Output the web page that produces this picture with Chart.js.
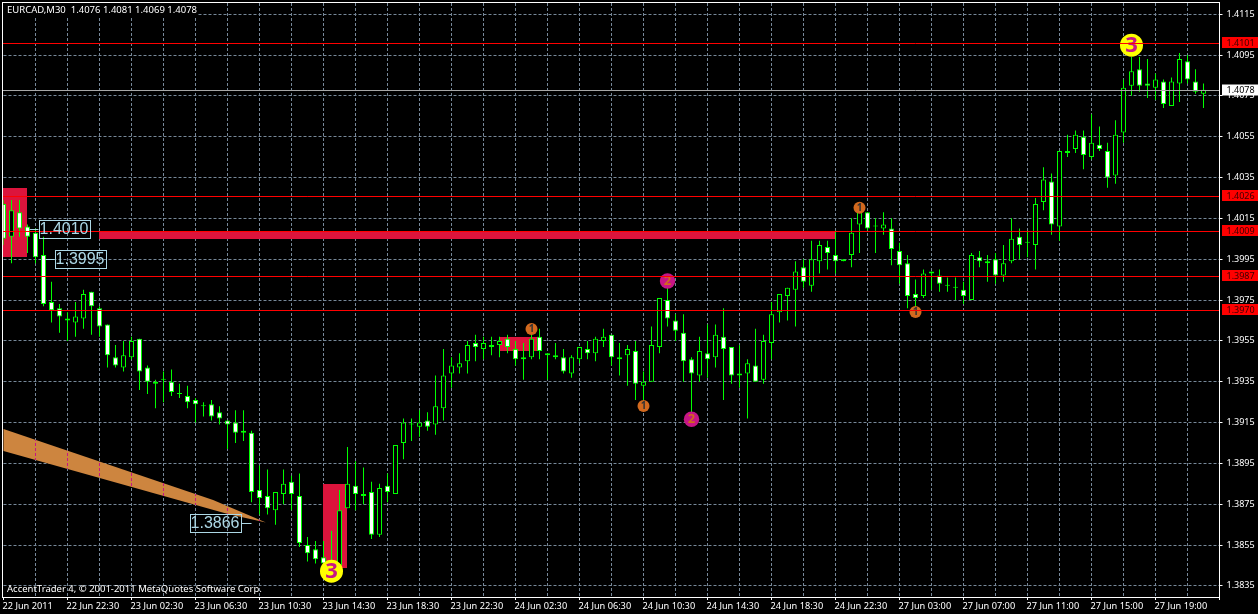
<!DOCTYPE html>
<html>
<head>
<meta charset="utf-8">
<title>EURCAD,M30</title>
<script src="https://cdn.jsdelivr.net/npm/chart.js@4"></script>
<style>
  html, body { margin: 0; padding: 0; background: #000; overflow: hidden; }
  canvas { display: block; }
</style>
</head>
<body>
<canvas id="grafico" width="1258" height="614"></canvas>
<script>
// candles, one per 30 minutes
const open = [
  1.4022,1.4006,1.4018,1.4011,1.4008,1.3997,1.3974,1.3971,1.3966,1.3964,
  1.3966,1.3979,1.3971,1.3963,1.3947,1.3942,1.3947,1.3956,1.3942,1.3935,
  1.3936,1.3935,1.3929,1.3928,1.3926,1.3923,1.3924,1.3920,1.3916,1.3915,
  1.3911,1.3910,1.3882,1.3879,1.3872,1.3880,1.3886,1.3879,1.3855,1.3853,
  1.3849,1.3846,1.3845,1.3873,1.3884,1.3880,1.3881,1.3860,1.3884,1.3880,
  1.3905,1.3914,1.3913,1.3916,1.3914,1.3922,1.3939,1.3942,1.3945,1.3954,
  1.3951,1.3953,1.3953,1.3956,1.3951,1.3947,1.3947,1.3957,1.3949,1.3947,
  1.3947,1.3939,1.3946,1.3951,1.3949,1.3955,1.3958,1.3947,1.3948,1.3950,
  1.3933,1.3935,1.3952,1.3975,1.3965,1.3959,1.3946,1.3938,1.3949,1.3947,
  1.3957,1.3952,1.3939,1.3939,1.3943,1.3936,1.3954,1.3969,1.3977,1.3980,
  1.3991,1.3982,1.3994,1.4001,1.3997,1.3995,1.3997,1.4012,1.4018,1.4011,
  1.4010,1.4010,1.3999,1.3993,1.3978,1.3977,1.3989,1.3987,1.3982,1.3981,
  1.3980,1.3975,1.3996,1.3993,1.3995,1.3987,1.3994,1.4006,1.4003,1.4002,
  1.4023,1.4033,1.4011,1.4047,1.4049,1.4055,1.4045,1.4051,1.4048,1.4036,
  1.4057,1.4080,1.4088,1.4081,1.4079,1.4082,1.4070,1.4081,1.4092,1.4082,1.4076
];
const high = [
  1.4024,1.4024,1.4024,1.4012,1.4010,1.4006,1.3984,1.3973,1.3969,1.3974,
  1.3980,1.3979,1.3972,1.3963,1.3953,1.3955,1.3957,1.3956,1.3943,1.3936,
  1.3940,1.3941,1.3934,1.3933,1.3927,1.3925,1.3926,1.3923,1.3916,1.3921,
  1.3921,1.3911,1.3894,1.3892,1.3881,1.3892,1.3889,1.3890,1.3859,1.3857,
  1.3857,1.3862,1.3882,1.3903,1.3896,1.3893,1.3886,1.3885,1.3890,1.3904,
  1.3917,1.3917,1.3921,1.3920,1.3938,1.3951,1.3947,1.3949,1.3955,1.3958,
  1.3957,1.3957,1.3957,1.3958,1.3955,1.3954,1.3960,1.3961,1.3949,1.3954,
  1.3951,1.3948,1.3952,1.3955,1.3957,1.3961,1.3958,1.3954,1.3953,1.3955,
  1.3940,1.3962,1.3976,1.3984,1.3968,1.3968,1.3947,1.3957,1.3963,1.3963,
  1.3971,1.3952,1.3953,1.3946,1.3961,1.3958,1.3974,1.3978,1.3981,1.3994,
  1.3995,1.4004,1.4004,1.4004,1.4009,1.3995,1.4015,1.4021,1.4018,1.4015,
  1.4018,1.4015,1.4003,1.3997,1.3985,1.3990,1.3989,1.3990,1.3986,1.3986,
  1.3984,1.3998,1.3999,1.3997,1.3998,1.4002,1.4015,1.4010,1.4009,1.4025,
  1.4040,1.4037,1.4048,1.4056,1.4058,1.4058,1.4066,1.4060,1.4052,1.4063,
  1.4083,1.4094,1.4094,1.4093,1.4086,1.4083,1.4084,1.4096,1.4095,1.4088,1.4081
];
const low = [
  1.4002,1.3993,1.4006,1.3998,1.3993,1.3972,1.3964,1.3959,1.3955,1.3957,
  1.3961,1.3958,1.3957,1.3942,1.3942,1.3940,1.3946,1.3931,1.3929,1.3922,
  1.3925,1.3928,1.3927,1.3922,1.3915,1.3918,1.3916,1.3914,1.3902,1.3905,
  1.3906,1.3876,1.3870,1.3870,1.3865,1.3875,1.3872,1.3854,1.3847,1.3846,
  1.3843,1.3845,1.3844,1.3873,1.3872,1.3875,1.3858,1.3859,1.3876,1.3880,
  1.3897,1.3906,1.3908,1.3911,1.3909,1.3916,1.3932,1.3939,1.3939,1.3945,
  1.3946,1.3948,1.3947,1.3949,1.3943,1.3936,1.3946,1.3946,1.3936,1.3946,
  1.3939,1.3937,1.3944,1.3946,1.3945,1.3952,1.3943,1.3938,1.3933,1.3926,
  1.3921,1.3935,1.3949,1.3962,1.3955,1.3935,1.3918,1.3935,1.3937,1.3942,
  1.3926,1.3934,1.3932,1.3917,1.3935,1.3934,1.3946,1.3964,1.3965,1.3962,
  1.3981,1.3979,1.3988,1.3990,1.3988,1.3994,1.3991,1.3998,1.4009,1.3998,
  1.4007,1.3992,1.3983,1.3971,1.3970,1.3976,1.3980,1.3979,1.3979,1.3975,
  1.3973,1.3975,1.3991,1.3984,1.3983,1.3984,1.3993,1.3995,1.3996,1.3990,
  1.4019,1.4007,1.4004,1.4045,1.4047,1.4039,1.4044,1.4048,1.4030,1.4032,
  1.4052,1.4075,1.4077,1.4074,1.4073,1.4069,1.4070,1.4072,1.4081,1.4076,1.4069
];
const close = [
  1.4005,1.4019,1.4010,1.4006,1.3996,1.3973,1.3970,1.3967,1.3965,1.3967,
  1.3978,1.3972,1.3962,1.3948,1.3943,1.3948,1.3955,1.3940,1.3935,1.3934,
  1.3936,1.3930,1.3929,1.3925,1.3924,1.3923,1.3918,1.3917,1.3914,1.3910,
  1.3910,1.3881,1.3878,1.3873,1.3881,1.3885,1.3880,1.3856,1.3851,1.3848,
  1.3846,1.3846,1.3872,1.3885,1.3880,1.3879,1.3860,1.3883,1.3881,1.3904,
  1.3915,1.3914,1.3915,1.3913,1.3923,1.3938,1.3943,1.3944,1.3953,1.3952,
  1.3954,1.3952,1.3955,1.3952,1.3946,1.3946,1.3956,1.3950,1.3948,1.3948,
  1.3940,1.3947,1.3952,1.3949,1.3956,1.3957,1.3947,1.3946,1.3951,1.3934,
  1.3935,1.3953,1.3976,1.3966,1.3960,1.3945,1.3939,1.3950,1.3946,1.3958,
  1.3951,1.3938,1.3938,1.3944,1.3935,1.3955,1.3968,1.3978,1.3981,1.3989,
  1.3984,1.3995,1.4002,1.3998,1.3994,1.3994,1.4008,1.4019,1.4010,1.4011,
  1.4012,1.4000,1.3992,1.3977,1.3976,1.3988,1.3988,1.3983,1.3982,1.3981,
  1.3977,1.3997,1.3994,1.3994,1.3987,1.3993,1.4005,1.4002,1.4003,1.4022,
  1.4034,1.4012,1.4048,1.4048,1.4056,1.4046,1.4052,1.4049,1.4035,1.4056,
  1.4079,1.4087,1.4080,1.4080,1.4083,1.4071,1.4082,1.4093,1.4083,1.4077,1.4078
];

// axis text
const timeLabels = ['22 Jun 2011','22 Jun 22:30','23 Jun 02:30','23 Jun 06:30','23 Jun 10:30','23 Jun 14:30','23 Jun 18:30','23 Jun 22:30','24 Jun 02:30','24 Jun 06:30','24 Jun 10:30','24 Jun 14:30','24 Jun 18:30','24 Jun 22:30','27 Jun 03:00','27 Jun 07:00','27 Jun 11:00','27 Jun 15:00','27 Jun 19:00'];
const priceTicks = [1.4115,1.4095,1.4075,1.4055,1.4035,1.4015,1.3995,1.3975,1.3955,1.3935,1.3915,1.3895,1.3875,1.3855,1.3835];

// horizontal levels
const levels = [1.4101,1.4026,1.4009,1.3987,1.3970];
const lastPrice = 1.4078;

// red zones
const zoneStart = [0,12,40,62];
const zoneEnd = [3,104,43,67];
const zoneTop = [1.4030,1.4009,1.3885,1.3957];
const zoneBottom = [1.3996,1.4005,1.3844,1.3950];

// orange wedge
const wedgeIndex = [0,26.2,32.8,28.05,0];
const wedgePrice = [1.39118,1.38771,1.3866,1.38702,1.39011];

// numbered waves
const waveIndex = [141,41,66,80,107,114,83,86];
const wavePrice = [1.40998,1.38422,1.39608,1.39231,1.40202,1.39691,1.39843,1.39166];
const waveText = ['3','3','1','1','1','1','2','2'];

// price callouts
const calloutIndex = [3,5,31];
const calloutPrice = [1.4010,1.3995,1.3866];

const FONTE = '"Noto Sans", sans-serif';
const VERDE = '#00ff00';
const GRADE = '#778899';

const velas = open.map((o, i) => i);

const desenhos = {
  id: 'desenhos',
  beforeDatasetsDraw(chart) {
    const { ctx, scales: { x, y } } = chart;
    ctx.save();
    ctx.beginPath();
    ctx.rect(3, 3, 1217, 594);
    ctx.clip();
    // zonas vermelhas
    ctx.fillStyle = '#dc143c';
    zoneStart.forEach((s, i) => {
      const x0 = Math.floor(x.getPixelForValue(s));
      const x1 = Math.floor(x.getPixelForValue(zoneEnd[i]));
      const y0 = Math.round(y.getPixelForValue(zoneTop[i]));
      const y1 = Math.round(y.getPixelForValue(zoneBottom[i]));
      ctx.fillRect(x0, y0, x1 - x0, y1 - y0);
    });
    // cunha laranja
    ctx.beginPath();
    wedgeIndex.forEach((v, i) => {
      ctx.lineTo(x.getPixelForValue(v), y.getPixelForValue(wedgePrice[i]));
    });
    ctx.closePath();
    ctx.fillStyle = '#cd853f';
    ctx.fill();
    ctx.clip();
    ctx.strokeStyle = '#c71585';
    ctx.setLineDash([3, 2]);
    for (let v = 4; v <= 32; v += 4) {
      const px = x.getPixelForValue(v);
      ctx.beginPath();
      ctx.moveTo(px, 3);
      ctx.lineTo(px, 597);
      ctx.stroke();
    }
    ctx.restore();
  },
  afterDatasetsDraw(chart) {
    const { ctx, scales: { x, y } } = chart;
    ctx.save();
    ctx.textBaseline = 'middle';

    // bolinhas numeradas
    waveText.forEach((t, i) => {
      const px = x.getPixelForValue(waveIndex[i]);
      const py = y.getPixelForValue(wavePrice[i]);
      let raio = 6, fundo = '#d2691e', cor = '#333333', fonte = 'bold 10px ' + FONTE;
      if (t === '3') { raio = 11.5; fundo = '#ffff00'; cor = '#c71585'; fonte = 'bold 22px ' + FONTE; }
      if (t === '2') { raio = 7.7; fundo = '#c71585'; cor = '#d2691e'; fonte = 'bold 13px ' + FONTE; }
      ctx.fillStyle = fundo;
      ctx.beginPath();
      ctx.arc(px, py, raio, 0, Math.PI * 2);
      ctx.fill();
      ctx.fillStyle = cor;
      ctx.font = fonte;
      ctx.textAlign = 'center';
      ctx.fillText(t, px, py + 0.5);
    });

    // linhas de nivel
    const direita = x.right;
    ctx.strokeStyle = '#ff0000';
    ctx.lineWidth = 1;
    levels.forEach(v => {
      const py = Math.round(y.getPixelForValue(v)) + 0.5;
      ctx.beginPath();
      ctx.moveTo(3, py);
      ctx.lineTo(direita, py);
      ctx.stroke();
    });
    const pyUltimo = Math.round(y.getPixelForValue(lastPrice)) + 0.5;
    ctx.strokeStyle = '#a8a8a8';
    ctx.beginPath();
    ctx.moveTo(3, pyUltimo);
    ctx.lineTo(direita, pyUltimo);
    ctx.stroke();

    // caixas de preco
    ctx.font = '16px "Liberation Sans", sans-serif';
    ctx.textAlign = 'center';
    ctx.strokeStyle = '#add8e6';
    ctx.fillStyle = '#add8e6';
    calloutIndex.forEach((v, i) => {
      const ax = x.getPixelForValue(v);
      const ay = Math.round(y.getPixelForValue(calloutPrice[i])) + 0.5;
      const esquerda = i === 2;
      const bx = esquerda ? ax - 62 : ax + 11;
      ctx.beginPath();
      ctx.moveTo(esquerda ? bx + 52 : ax + 2, ay);
      ctx.lineTo(esquerda ? ax : bx, ay);
      ctx.stroke();
      ctx.strokeRect(Math.round(bx) + 0.5, ay - 9, 51, 18);
      ctx.fillText(calloutPrice[i].toFixed(4), bx + 25.5, ay + 0.5);
    });

    // cabecalho e rodape
    ctx.textAlign = 'left';
    ctx.fillStyle = '#000';
    ctx.fillRect(3, 3, 194, 13);
    ctx.fillStyle = '#fff';
    ctx.font = '9.5px ' + FONTE;
    ctx.fillText('EURCAD,M30  1.4076 1.4081 1.4069 1.4078', 7, 10.5);
    ctx.fillText('AccentTrader 4, \u00a9 2001-2011 MetaQuotes Software Corp.', 7, 589);

    // moldura
    ctx.strokeStyle = '#fff';
    ctx.strokeRect(2.5, 2.5, direita - 2.5, 595);

    // etiquetas da direita
    ctx.font = '9px ' + FONTE;
    levels.forEach(v => {
      const py = Math.round(y.getPixelForValue(v));
      ctx.fillStyle = '#ff0000';
      ctx.fillRect(1222, py - 6, 36, 11);
      ctx.fillStyle = '#3a0000';
      ctx.fillText(v.toFixed(4), 1226.5, py);
    });
    ctx.fillStyle = '#fff';
    ctx.fillRect(1222, pyUltimo - 6, 36, 11);
    ctx.fillStyle = '#000';
    ctx.fillText(lastPrice.toFixed(4), 1226.5, pyUltimo);
    ctx.restore();
  }
};

new Chart(document.getElementById('grafico'), {
  type: 'bar',
  data: {
    datasets: [
      {
        label: 'pavio',
        data: velas.map(i => ({ x: i, y: [low[i], high[i]] })),
        backgroundColor: VERDE,
        grouped: false,
        barPercentage: 1,
        maxBarThickness: 1,
        inflateAmount: 0,
        order: 2
      },
      {
        label: 'corpo',
        data: velas.map(i => ({ x: i, y: [open[i], close[i]] })),
        backgroundColor: velas.map(i => close[i] < open[i] ? '#ffffff' : '#000000'),
        borderColor: VERDE,
        borderWidth: 1,
        borderSkipped: false,
        grouped: false,
        barPercentage: 1,
        maxBarThickness: 5,
        minBarLength: 1,
        inflateAmount: 0,
        order: 1
      }
    ]
  },
  options: {
    responsive: false,
    animation: false,
    devicePixelRatio: 1,
    layout: { padding: { top: 3, left: 3.5, right: 0, bottom: 0 } },
    plugins: { legend: { display: false }, tooltip: { enabled: false } },
    scales: {
      x: {
        type: 'linear',
        min: 0,
        max: 152,
        offset: false,
        afterFit(scale) { scale.height = 17; scale.paddingLeft = 0; scale.paddingRight = 0; },
        grid: {
          offset: false,
          color: ctx => ctx.tick && ctx.tick.value === 0 ? 'transparent' : GRADE,
          tickColor: ctx => ctx.tick && ctx.tick.value % 8 === 0 ? '#ffffff' : 'transparent',
          tickLength: 3,
          tickBorderDash: []
        },
        border: { color: '#ffffff', dash: [3, 2] },
        ticks: {
          stepSize: 4,
          autoSkip: false,
          maxRotation: 0,
          minRotation: 0,
          align: 'start',
          labelOffset: -1,
          padding: 1,
          color: '#ffffff',
          font: { family: FONTE, size: 9.2 },
          callback: v => v % 8 === 0 ? (timeLabels[v / 8] || '') : ''
        }
      },
      y: {
        position: 'right',
        min: 1.382957,
        max: 1.412047,
        afterFit(scale) { scale.width = 38.5; scale.paddingTop = 0; scale.paddingBottom = 0; },
        afterBuildTicks(scale) { scale.ticks = priceTicks.map(v => ({ value: v })); },
        grid: { color: GRADE, tickColor: '#ffffff', tickLength: 3, tickBorderDash: [] },
        border: { color: '#ffffff', dash: [3, 2] },
        ticks: {
          padding: 4,
          color: '#ffffff',
          font: { family: FONTE, size: 9 },
          callback: v => Number(v).toFixed(4)
        }
      }
    }
  },
  plugins: [desenhos]
});
</script>
</body>
</html>
